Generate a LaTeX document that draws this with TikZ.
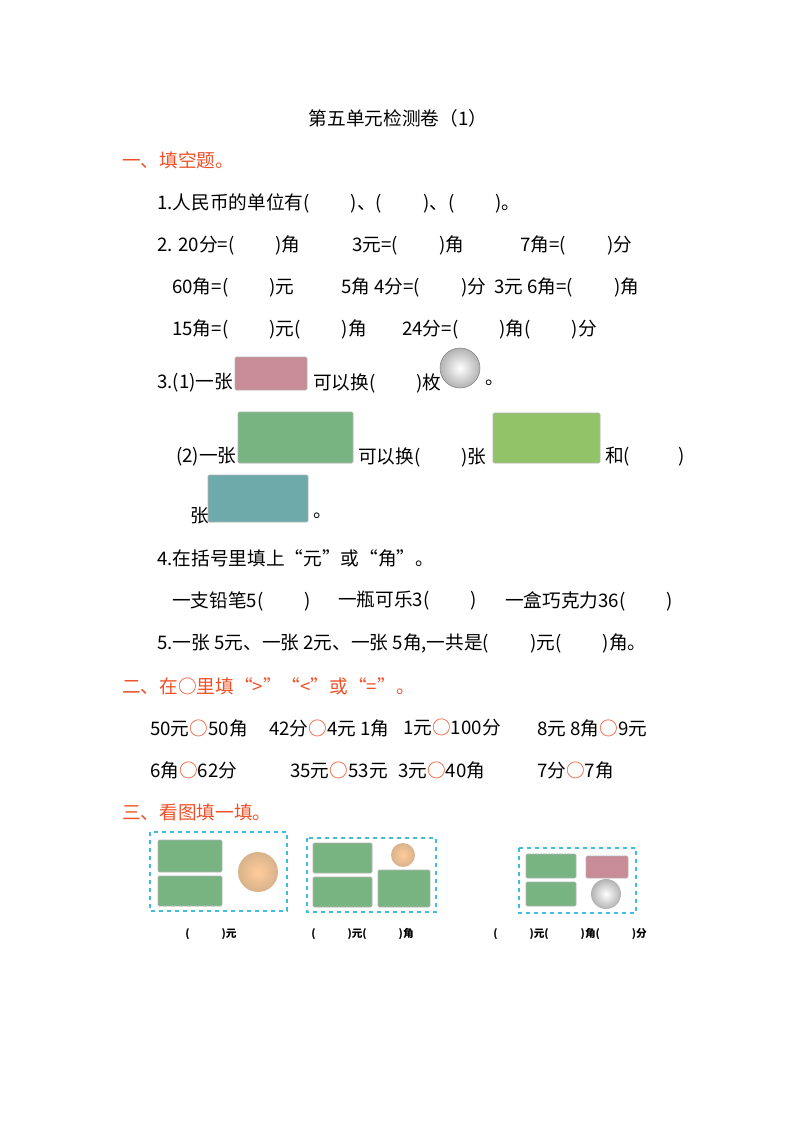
\documentclass[tikz,border=0pt]{standalone}
\usepackage{fontspec}
\setmainfont{Noto Sans CJK SC}
\definecolor{headred}{RGB}{240,80,40}
\definecolor{notegreen}{RGB}{120,180,130}
\definecolor{noteblue}{RGB}{110,170,170}
\definecolor{notepink}{RGB}{200,140,150}
\definecolor{boxcyan}{RGB}{60,190,220}
\newcommand{\bl}{(\hspace{2.2em})}
\newcommand{\oo}{\textcolor{headred}{○}}
\begin{document}
\begin{tikzpicture}[x=0.75pt,y=-0.75pt,
    line/.style={anchor=west, inner sep=0pt, font=\fontsize{14}{16}\selectfont},
    head/.style={line, text=headred},
    small/.style={anchor=west, inner sep=0pt, font=\fontsize{8}{10}\selectfont\bfseries},
    note/.style={draw=gray!60, rounded corners=1pt},
    picbox/.style={draw=boxcyan, dashed, thick}
]
    \useasboundingbox (0,0) rectangle (800,1132);
    % Title
    \node[line, anchor=center] (title) at (398,118) {第五单元检测卷（1）};
    % Part one
    \node[head] (h1) at (122,160) {一、填空题。};
    \node[line] (q1) at (157,203) {1.人民币的单位有\bl、\bl、\bl。};
    \node[line] (q2a) at (157,245) {2. 20分=\bl 角};
    \node[line] (q2b) at (352,245) {3元=\bl 角};
    \node[line] (q2c) at (520,245) {7角=\bl 分};
    \node[line] (q2d) at (172,287) {60角=\bl 元};
    \node[line] (q2e) at (341,287) {5角 4分=\bl 分};
    \node[line] (q2f) at (494,287) {3元 6角=\bl 角};
    \node[line] (q2g) at (172,329) {15角=\bl 元\bl 角};
    \node[line] (q2h) at (402,329) {24分=\bl 角\bl 分};
    % Question 3
    \node[line] (q3a) at (157,383) {3.(1)一张};
    \fill[notepink, note] (235,357) rectangle (307,390);
    \node[line] (q3b) at (313,383) {可以换\bl 枚};
    \shade[inner color=white, outer color=gray!60, draw=gray] (460,368) circle (20);
    \node[line] (q3c) at (485,383) {。};
    \node[line] (q3d) at (176,457) {(2)一张};
    \fill[notegreen, note] (238,412) rectangle (353,463);
    \node[line] (q3e) at (358,457) {可以换\bl 张};
    \fill[notegreen!80!yellow, note] (493,413) rectangle (600,463);
    \node[line] (q3f) at (605,457) {和(\hspace{2.6em})};
    \node[line] (q3g) at (190,516) {张};
    \fill[noteblue, note] (208,475) rectangle (308,522);
    \node[line] (q3h) at (313,516) {。};
    % Question 4
    \node[line] (q4) at (157,558) {4.在括号里填上“元”或“角”。};
    \node[line] (q4a) at (172,601) {一支铅笔5\bl};
    \node[line] (q4b) at (338,601) {一瓶可乐3\bl};
    \node[line] (q4c) at (505,601) {一盒巧克力36\bl};
    % Question 5
    \node[line] (q5) at (157,643) {5.一张 5元、一张 2元、一张 5角,一共是\bl 元\bl 角。};
    % Part two
    \node[head] (h2) at (122,686) {二、在○里填“>”“<”或“=”。};
    \node[line] (c1) at (150,728) {50元\oo 50角};
    \node[line] (c2) at (269,728) {42分\oo 4元 1角};
    \node[line] (c3) at (403,728) {1元\oo 100分};
    \node[line] (c4) at (537,728) {8元 8角\oo 9元};
    \node[line] (c5) at (150,770) {6角\oo 62分};
    \node[line] (c6) at (290,770) {35元\oo 53元};
    \node[line] (c7) at (398,770) {3元\oo 40角};
    \node[line] (c8) at (537,770) {7分\oo 7角};
    % Part three
    \node[head] (h3) at (122,812) {三、看图填一填。};
    \draw[picbox] (150,832) rectangle (287,911);
    \fill[notegreen, note] (158,840) rectangle (222,872);
    \fill[notegreen, note] (158,876) rectangle (222,906);
    \shade[inner color=orange!40, outer color=brown!60] (258,872) circle (20);
    \draw[picbox] (307,838) rectangle (436,912);
    \fill[notegreen, note] (313,843) rectangle (372,873);
    \fill[notegreen, note] (313,877) rectangle (372,907);
    \fill[notegreen, note] (378,870) rectangle (430,907);
    \shade[inner color=orange!40, outer color=brown!60] (403,855) circle (12);
    \draw[picbox] (519,848) rectangle (636,913);
    \fill[notegreen, note] (526,854) rectangle (576,878);
    \fill[notegreen, note] (526,882) rectangle (576,906);
    \fill[notepink, note] (586,856) rectangle (628,878);
    \shade[inner color=white, outer color=gray!60] (606,894) circle (15);
    \node[small] (a1) at (185,934) {(\hspace{3em})元};
    \node[small] (a2) at (311,934) {(\hspace{3em})元(\hspace{3em})角};
    \node[small] (a3) at (493,934) {(\hspace{3em})元(\hspace{3em})角(\hspace{3em})分};
\end{tikzpicture}
\end{document}
